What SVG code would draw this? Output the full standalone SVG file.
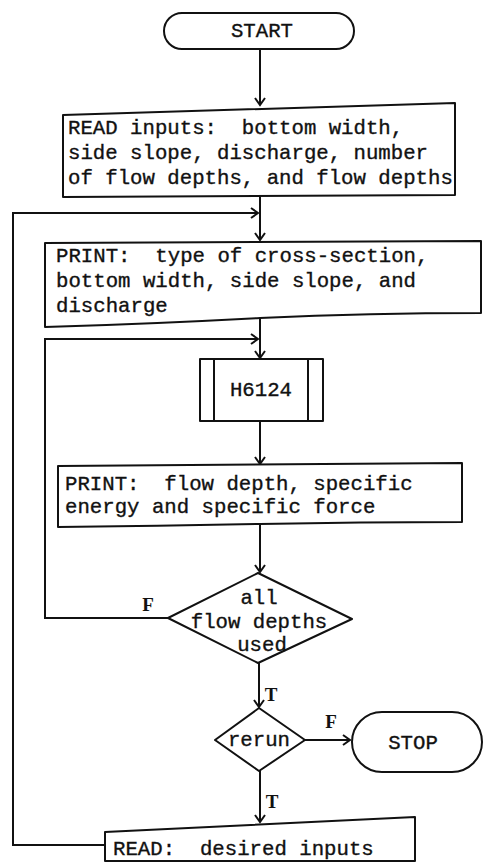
<svg xmlns="http://www.w3.org/2000/svg" width="484" height="862" viewBox="0 0 484 862" xml:space="preserve">
  <style>
    .shape { fill: #ffffff; stroke: #111; stroke-width: 2; stroke-linejoin: round; }
    .wire { fill: none; stroke: #111; stroke-width: 2; }
    .t { font-family: "Liberation Mono", "DejaVu Sans Mono", monospace; font-size: 20.7px; fill: #111; stroke: #111; stroke-width: 0.35; white-space: pre; }
    .c { text-anchor: middle; }
    .lbl { font-family: "Liberation Serif", serif; font-size: 19px; font-weight: bold; fill: #111; }
  </style>
  <defs>
    <marker id="arrow" markerUnits="userSpaceOnUse" markerWidth="16" markerHeight="16" refX="0" refY="0" viewBox="-9 -8 12 16" orient="auto">
      <path d="M-7,-5 L0,0 L-7,5" fill="none" stroke="#111" stroke-width="2"/>
    </marker>
  </defs>
  <rect width="484" height="862" fill="#ffffff"/>

  <!-- connectors -->
  <g id="connectors">
    <path class="wire" d="M260,49 L260,105" marker-end="url(#arrow)"/>
    <path class="wire" d="M260,195 L260,240" marker-end="url(#arrow)"/>
    <path class="wire" d="M105,845 L13,845 L13,213 L258,213" marker-end="url(#arrow)"/>
    <path class="wire" d="M260,316 L260,358" marker-end="url(#arrow)"/>
    <path class="wire" d="M168,618 L45,618 L45,339 L258,339" marker-end="url(#arrow)"/>
    <path class="wire" d="M260,421 L260,464" marker-end="url(#arrow)"/>
    <path class="wire" d="M260,525 L260,572" marker-end="url(#arrow)"/>
    <path class="wire" d="M259,662 L259,707" marker-end="url(#arrow)"/>
    <path class="wire" d="M305,740 L350,740" marker-end="url(#arrow)"/>
    <path class="wire" d="M260,771 L260,822" marker-end="url(#arrow)"/>
    <text class="lbl" x="148" y="611" text-anchor="middle">F</text>
    <text class="lbl" x="271" y="701" text-anchor="middle">T</text>
    <text class="lbl" x="331" y="728" text-anchor="middle">F</text>
    <text class="lbl" x="272" y="808" text-anchor="middle">T</text>
  </g>

  <g id="start">
    <rect class="shape" x="164" y="13" width="190" height="36" rx="18"/>
    <text class="t c" x="262" y="37">START</text>
  </g>

  <g id="read-inputs">
    <path class="shape" d="M63,115 L455,103 L455,195 L63,197 Z"/>
    <text class="t" x="68" y="134">READ inputs:  bottom width,</text>
    <text class="t" x="68" y="159">side slope, discharge, number</text>
    <text class="t" x="68" y="184">of flow depths, and flow depths</text>
  </g>

  <g id="print-section">
    <path class="shape" d="M45,243 L481,241 L481,313 Q370,313 260,318 Q150,324 45,327 Z"/>
    <text class="t" x="56" y="262">PRINT:  type of cross-section,</text>
    <text class="t" x="56" y="287">bottom width, side slope, and</text>
    <text class="t" x="56" y="312">discharge</text>
  </g>

  <g id="h6124">
    <rect class="shape" x="200" y="359" width="123" height="62"/>
    <path class="wire" d="M214,359 L214,421 M308,359 L308,421"/>
    <text class="t c" x="261" y="396">H6124</text>
  </g>

  <g id="print-depth">
    <path class="shape" d="M58,466 L462,463 L462,522 Q360,522 260,524 Q160,526 58,527 Z"/>
    <text class="t" x="65" y="490">PRINT:  flow depth, specific</text>
    <text class="t" x="65" y="513">energy and specific force</text>
  </g>

  <g id="all-used">
    <path class="shape" d="M258,573 L352,619 L258,663 L168,618 Z"/>
    <text class="t c" x="259" y="604">all</text>
    <text class="t c" x="259" y="628">flow depths</text>
    <text class="t c" x="262" y="651">used</text>
  </g>

  <g id="rerun">
    <path class="shape" d="M259,708 L305,740 L259,771 L215,740 Z"/>
    <text class="t c" x="259" y="746">rerun</text>
  </g>

  <g id="stop">
    <rect class="shape" x="352" y="712" width="130" height="60" rx="30"/>
    <text class="t c" x="413" y="749">STOP</text>
  </g>

  <g id="read-desired">
    <path class="shape" d="M105,832 L415,817 L415,861 L105,861 Z"/>
    <text class="t" x="113" y="855">READ:  desired inputs</text>
  </g>
</svg>
